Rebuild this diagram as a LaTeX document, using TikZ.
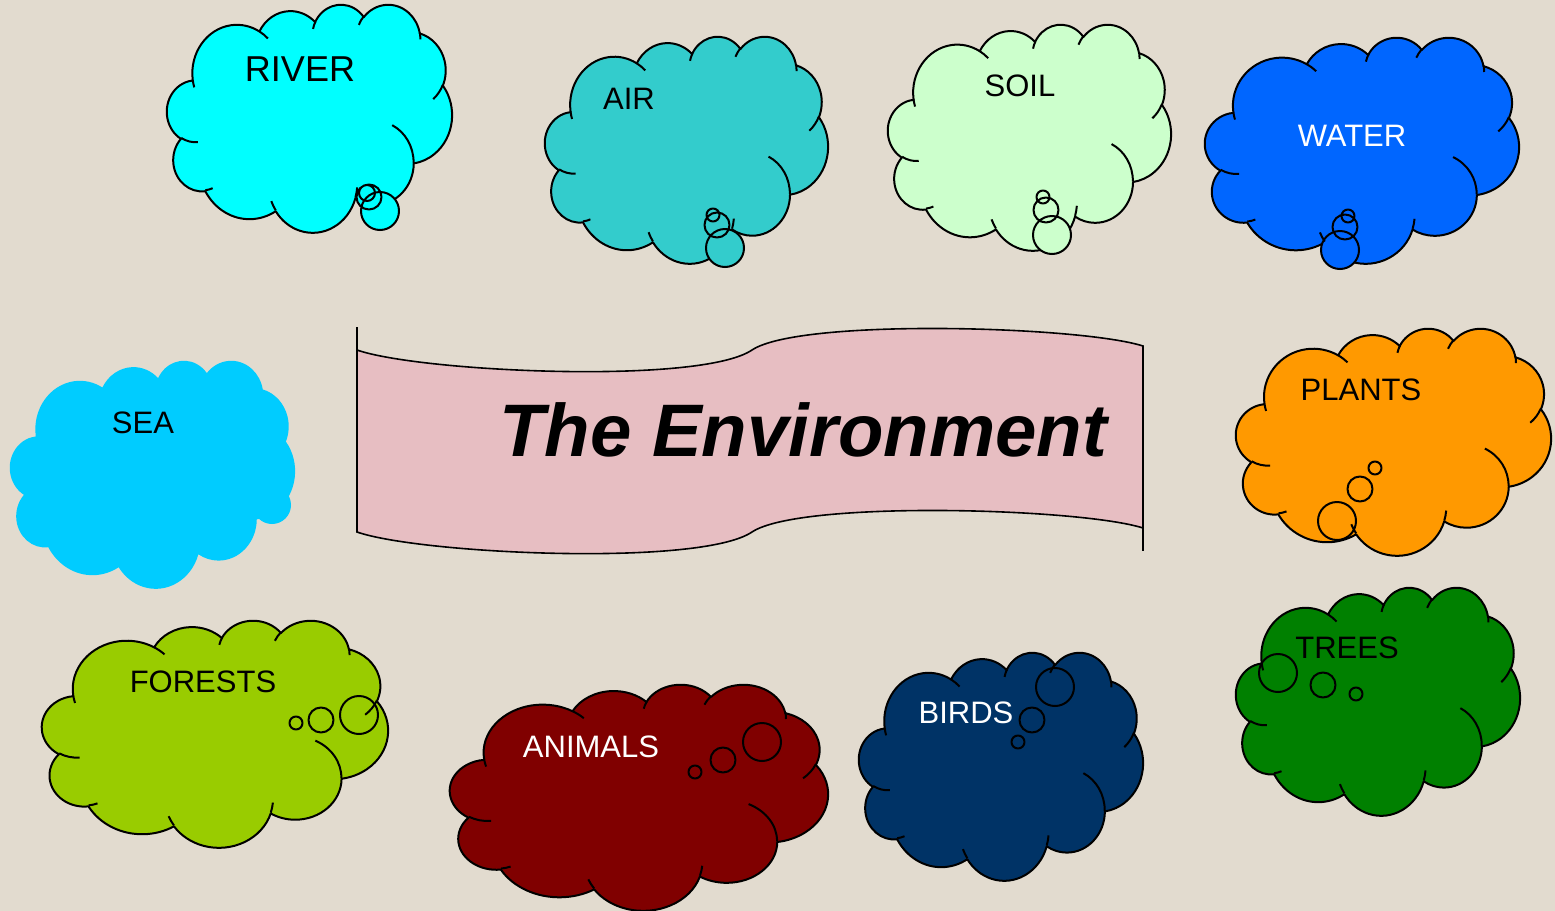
\documentclass[tikz,border=0pt]{standalone}
\usepackage{fontspec}
\setmainfont{Liberation Sans}
\definecolor{bgbeige}{RGB}{226,219,207}
\definecolor{bannerpink}{RGB}{231,190,194}
\definecolor{riverc}{HTML}{00FFFF}
\definecolor{airc}{HTML}{33CCCC}
\definecolor{soilc}{HTML}{CCFFCC}
\definecolor{waterc}{HTML}{0066FF}
\definecolor{seac}{HTML}{00CCFF}
\definecolor{plantsc}{HTML}{FF9900}
\definecolor{forestsc}{HTML}{99CC00}
\definecolor{animalsc}{HTML}{800000}
\definecolor{birdsc}{HTML}{003366}
\definecolor{treesc}{HTML}{008000}
% elliptical arc with OOXML-style (visual) angles
\newcommand\oarc[4]{%
  \pgfextra{%
    \pgfmathsetmacro\oA{#3}%
    \pgfmathsetmacro\oB{#3+#4}%
    \pgfmathsetmacro\oTA{atan2((#1)*sin(\oA),(#2)*cos(\oA))}%
    \pgfmathsetmacro\oTA{\oTA+360*round((\oA-\oTA)/360)}%
    \pgfmathsetmacro\oTB{atan2((#1)*sin(\oB),(#2)*cos(\oB))}%
    \pgfmathsetmacro\oTB{\oTB+360*round((\oB-\oTB)/360)}%
    \global\let\oTA\oTA \global\let\oTB\oTB
  }%
  arc[start angle=\oTA, end angle=\oTB, x radius=#1, y radius=#2]%
}
% cloud callout: #1 X, #2 Y, #3 W, #4 H, #5 fill, #6 outline, #7 bubbles
\newcommand\cloudcallout[7]{%
  \begin{scope}[shift={(#1,#2)}, xscale=#3/43.2, yscale=#4/43.2]
    \path[fill=#5, draw=#6, cloudline] (3.9,14.37)
      \oarc{6.753}{9.19}{-190.487}{123.781}
      \oarc{5.333}{7.267}{-144.102}{89.945}
      \oarc{4.365}{5.945}{-145.808}{99.723}
      \oarc{4.857}{6.595}{-130.986}{117.242}
      \oarc{5.333}{7.273}{-78.709}{109.027}
      \oarc{6.775}{9.22}{-46.267}{130.269}
      \oarc{5.785}{7.867}{0.625}{114.033}
      \oarc{6.752}{9.215}{22.452}{115.173}
      \oarc{7.72}{10.543}{66.243}{75.711}
      \oarc{4.36}{5.918}{-274.942}{146.736}
      \oarc{4.345}{5.945}{-246.829}{152.519}
      -- cycle;
  \end{scope}
  \path[fill=#5, draw=#6, cloudline] #7;
  \begin{scope}[shift={(#1,#2)}, xscale=#3/43.2, yscale=#4/43.2]
    \path[draw=#6, cloudline]
      (4.693,26.177) \oarc{4.345}{5.945}{86.742}{26.430}
      (6.928,34.899) \oarc{4.36}{5.918}{73.610}{11.447}
      (16.478,39.09) \oarc{6.752}{9.215}{137.624}{14.081}
      (28.827,34.751) \oarc{6.752}{9.215}{6.453}{15.998}
      (34.129,22.954) \oarc{5.785}{7.867}{-70.292}{70.917}
      (41.798,15.354) \oarc{5.333}{7.273}{30.318}{27.752}
      (38.324,5.426) \oarc{4.857}{6.595}{-13.744}{14.859}
      (29.078,3.952) \oarc{4.857}{6.595}{-149.181}{18.195}
      (22.141,4.72) \oarc{4.365}{5.945}{-163.494}{17.686}
      (14.0,5.192) \oarc{6.753}{9.19}{-66.707}{12.319}
      (4.127,15.789) \oarc{6.753}{9.19}{157.654}{11.858};
  \end{scope}%
}
\tikzset{
  cloudline/.style={line width=1pt, line join=round},
  lbl/.style={inner sep=0pt, font=\fontsize{15.5}{18}\selectfont},
}
\begin{document}
\begin{tikzpicture}[x=0.5pt, y=-0.5pt]
\path[use as bounding box, fill=bgbeige] (0,0) rectangle (1555,911);

% banner
\path[fill=bannerpink, draw=black, line width=0.8pt]
  (357,350) .. controls (420,372) and (700,385) .. (752,350)
            .. controls (800,318) and (1080,326) .. (1143,346)
  -- (1143,528) .. controls (1080,508) and (800,500) .. (752,532)
            .. controls (700,567) and (420,554) .. (357,532) -- cycle;
\coordinate (bl1) at (357,327);
\coordinate (bl2) at (357,350);
\coordinate (br1) at (1143,528);
\coordinate (br2) at (1143,551);
\draw[line width=0.8pt] (bl1) -- (bl2);
\draw[line width=0.8pt] (br1) -- (br2);
\node[inner sep=0pt, anchor=base, font=\fontsize{37.2}{42}\selectfont\bfseries\itshape]
  (title) at (803,456) {The Environment};

% clouds
\cloudcallout{167}{4}{285}{228}{riverc}{black}
  {(367,193) circle[radius=8] (369,197) circle[radius=12.5] (380,211) circle[radius=19]}
\cloudcallout{545}{36}{283}{227}{airc}{black}
  {(713,215) circle[radius=6.5] (717,225) circle[radius=12.5] (725,248) circle[radius=19]}
\cloudcallout{888}{24}{283}{226}{soilc}{black}
  {(1043,197) circle[radius=6.5] (1046,210) circle[radius=12.5] (1052,235) circle[radius=19]}
\cloudcallout{1205}{37}{314}{226}{waterc}{black}
  {(1348,216) circle[radius=6.5] (1345,227) circle[radius=12.5] (1340,250) circle[radius=19]}
\cloudcallout{10}{360}{285}{228}{seac}{none}
  {(272,505) circle[radius=19]}
\cloudcallout{1236}{328}{315}{227}{plantsc}{black}
  {(1375,468) circle[radius=6.5] (1360,489) circle[radius=12.5] (1337,521) circle[radius=19]}
\cloudcallout{42}{620}{346}{227}{forestsc}{black}
  {(296,723) circle[radius=6.5] (321,720) circle[radius=12.5] (359,715) circle[radius=19]}
\cloudcallout{450}{684}{378}{226}{animalsc}{black}
  {(695,772) circle[radius=6.5] (723,760) circle[radius=12.5] (762,742) circle[radius=19]}
\cloudcallout{859}{652}{284}{228}{birdsc}{black}
  {(1018,742) circle[radius=6.5] (1032,720) circle[radius=12.5] (1055,687) circle[radius=19]}
\cloudcallout{1236}{587}{284}{228}{treesc}{black}
  {(1356,694) circle[radius=6.5] (1323,685) circle[radius=12.5] (1278,673) circle[radius=19]}

% labels
\node[lbl, font=\fontsize{18}{21}\selectfont] (river) at (300,69) {RIVER};
\node[lbl] (air) at (629,99) {AIR};
\node[lbl] (soil) at (1020,86) {SOIL};
\node[lbl, text=white] (water) at (1352,136) {WATER};
\node[lbl] (sea) at (143,423) {SEA};
\node[lbl] (plants) at (1361,390) {PLANTS};
\node[lbl] (forests) at (203,682) {FORESTS};
\node[lbl, text=white] (animals) at (591,747) {ANIMALS};
\node[lbl, text=white] (birds) at (966,713) {BIRDS};
\node[lbl] (trees) at (1347,648) {TREES};
\end{tikzpicture}
\end{document}
